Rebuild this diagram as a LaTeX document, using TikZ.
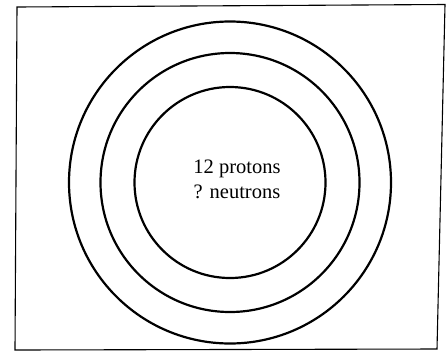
\documentclass[tikz,border=0pt]{standalone}
\usepackage{fontspec}
\setmainfont{Liberation Serif}
\begin{document}
\begin{tikzpicture}[x=1pt,y=-1pt,
  frame/.style={draw=black,line width=1.1pt},
  shell/.style={draw=black,line width=2.2pt},
  lbl/.style={font=\fontsize{20.5}{25}\selectfont,align=center,inner sep=0pt}]
\useasboundingbox (0,0) rectangle (446,354);
\draw[frame] (17,7) -- (445,4.5) -- (437,349) -- (15,350) -- cycle;
\coordinate (c) at (230,182.5);
\node[shell,circle,minimum size=322pt,inner sep=0pt] (outer) at (c) {};
\node[shell,circle,minimum size=259pt,inner sep=0pt] (middle) at (c) {};
\node[shell,circle,minimum size=191pt,inner sep=0pt] (inner) at (c) {};
\node[lbl] (txt) at (237,179) {12 protons\\? neutrons};
\end{tikzpicture}
\end{document}
